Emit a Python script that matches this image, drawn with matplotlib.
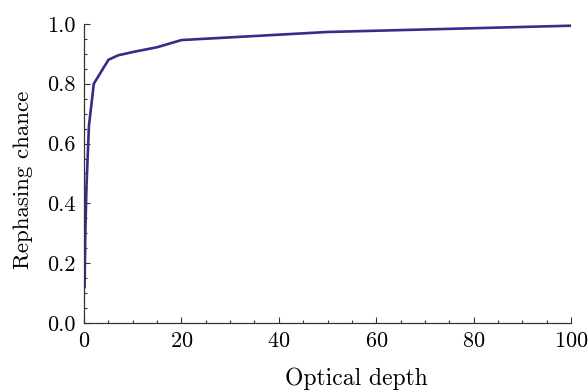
import matplotlib
matplotlib.use("Agg")
import matplotlib.pyplot as plt
from matplotlib.ticker import MultipleLocator, FormatStrFormatter

plt.rcParams["font.family"] = "serif"
plt.rcParams["font.serif"] = ["cmr10"]
plt.rcParams["axes.formatter.use_mathtext"] = True

# optical depth vs rephasing chance
depth = [0.1, 0.25, 0.5, 1, 2, 5, 7, 10, 15, 20, 50, 100]
chance = [0.12, 0.30, 0.46, 0.66, 0.80, 0.88, 0.895, 0.906, 0.922, 0.946, 0.973, 0.994]

fig = plt.figure(figsize=(5.88, 3.92), dpi=100)
ax = fig.add_axes([0.143, 0.176, 0.828, 0.763])
ax.plot(depth, chance, color="#3b2a8a", lw=1.9, solid_joinstyle="miter")

ax.set_xlim(0, 100)
ax.set_ylim(0, 1.0)
ax.xaxis.set_major_locator(MultipleLocator(20))
ax.xaxis.set_minor_locator(MultipleLocator(5))
ax.yaxis.set_major_locator(MultipleLocator(0.2))
ax.yaxis.set_minor_locator(MultipleLocator(0.05))
ax.yaxis.set_major_formatter(FormatStrFormatter("%.1f"))

for s in ["top", "right"]:
    ax.spines[s].set_visible(False)
for s in ["left", "bottom"]:
    ax.spines[s].set_color("#333333")
    ax.spines[s].set_linewidth(0.9)

ax.tick_params(which="both", direction="in", color="#333333", labelsize=16, width=0.8)
ax.tick_params(which="major", length=4.5, pad=6)
ax.tick_params(which="minor", length=2.5)

ax.set_xlabel("Optical depth", fontsize=17)
ax.xaxis.set_label_coords(0.56, -0.148)
ax.set_ylabel("Rephasing chance", fontsize=16.5)
ax.yaxis.set_label_coords(-0.104, 0.48)

fig.savefig("out.png", dpi=100)
